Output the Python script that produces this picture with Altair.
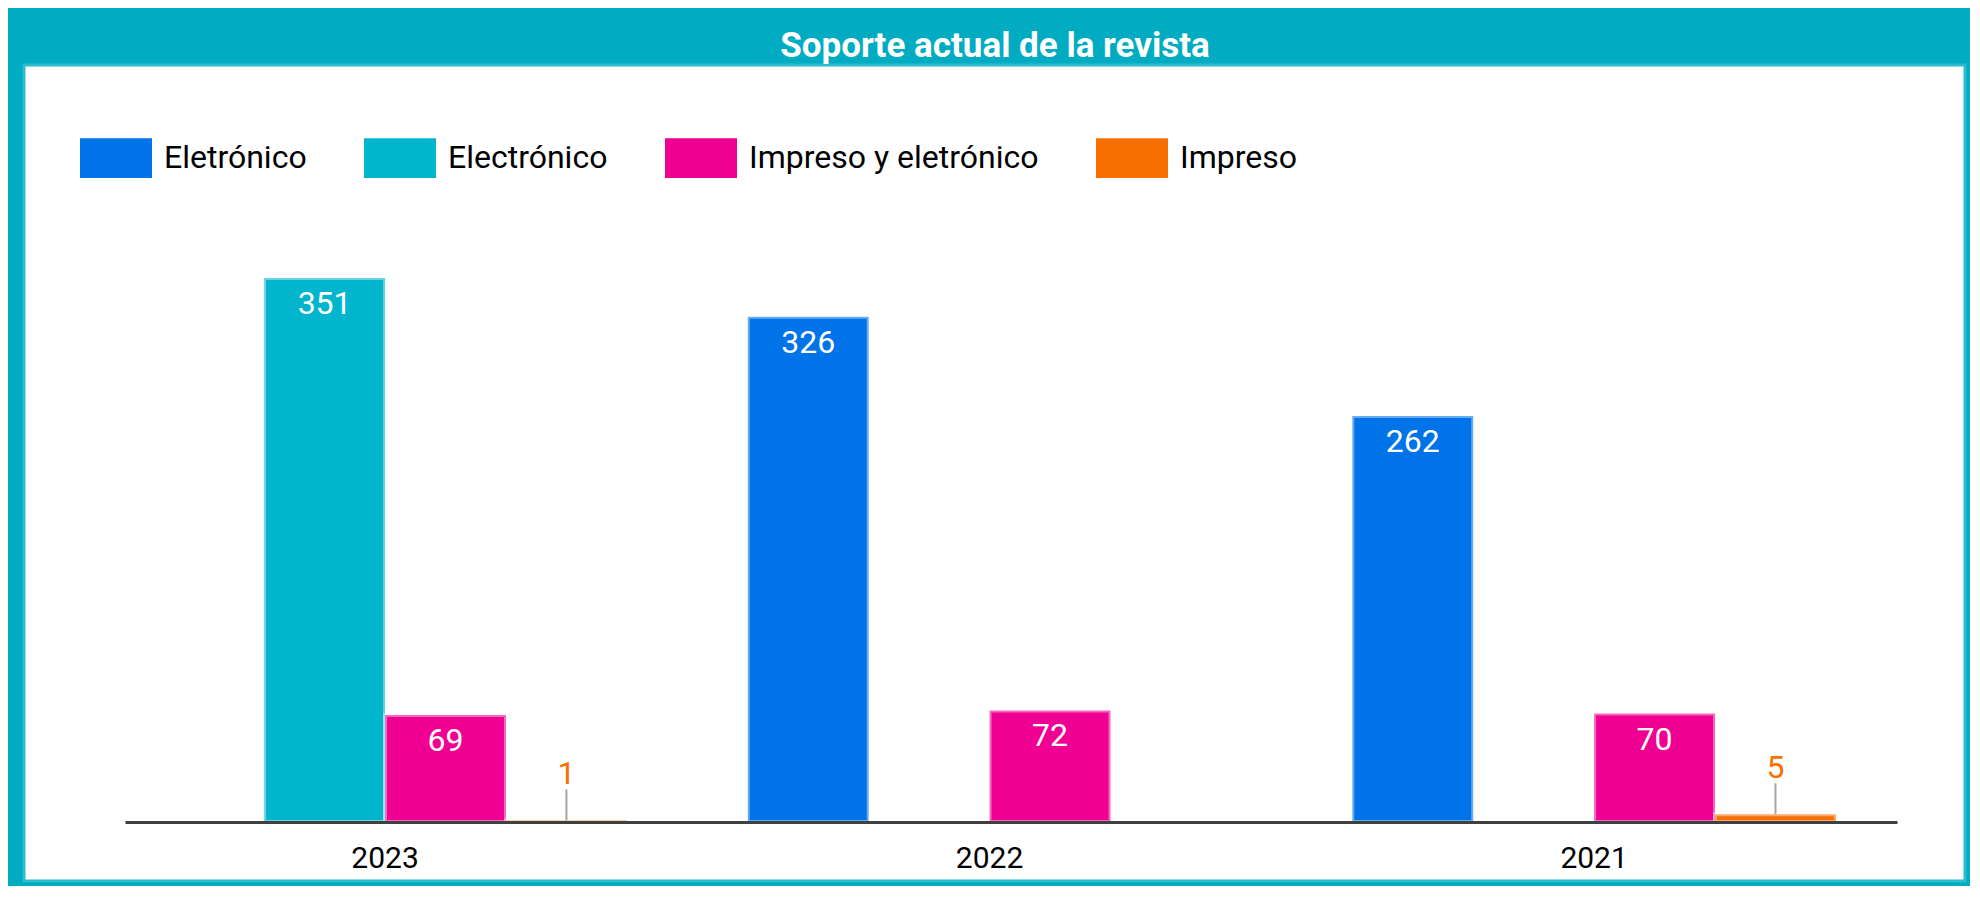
import altair as alt
import pandas as pd

# ---- data ----
years = ["2023", "2022", "2021"]
series = ["Eletrónico", "Electrónico", "Impreso y eletrónico", "Impreso"]
colors = ["#0073E8", "#00B5CC", "#EF0093", "#F87000"]

row_year = ["2023", "2023", "2023", "2022", "2022", "2021", "2021", "2021"]
row_series = ["Electrónico", "Impreso y eletrónico", "Impreso",
              "Eletrónico", "Impreso y eletrónico",
              "Eletrónico", "Impreso y eletrónico", "Impreso"]
row_value = [351, 69, 1, 326, 72, 262, 70, 5]

df = pd.DataFrame({"year": row_year, "serie": row_series, "value": row_value})

W, H = 1772, 620
FONT = "Roboto"
TEAL = "#01ACC2"

x = alt.X(
    "year:N", sort=years,
    scale=alt.Scale(paddingInner=0.2, paddingOuter=0.0656, align=0.23),
    axis=alt.Axis(title=None, labelAngle=0, ticks=False, grid=False,
                  domainColor="#404040", domainWidth=3,
                  labelFont=FONT, labelFontSize=30, labelColor="#000000",
                  labelPadding=21, zindex=1),
)
xo = alt.XOffset("serie:N", sort=series,
                 scale=alt.Scale(domain=series, paddingInner=0, paddingOuter=0))
y = alt.Y("value:Q", scale=alt.Scale(domain=[0, 400], nice=False, zero=True), axis=None)

color = alt.Color(
    "serie:N",
    scale=alt.Scale(domain=series, range=colors),
    legend=alt.Legend(
        title=None, orient="none", legendX=-45, legendY=-80,
        direction="horizontal", columns=4, columnPadding=57,
        labelFont=FONT, labelFontSize=32, labelColor="#000000", labelOffset=12,
        labelLimit=0,
        symbolType="M-1,-0.55H1V0.55H-1Z", symbolSize=5184,
        symbolStrokeWidth=0, symbolOpacity=1, padding=0, zindex=1,
    ),
)

# white inner panel (decoration)
panel = alt.Chart(pd.DataFrame({"k": [0]})).mark_rect(
    fill="white", stroke="#2BBCCD", strokeWidth=3
).encode(
    x=alt.value(-101), x2=alt.value(1840), y=alt.value(-137), y2=alt.value(679)
)

bars = alt.Chart(df).mark_bar(
    stroke="white", strokeOpacity=0.4, strokeWidth=4
).encode(x=x, xOffset=xo, y=y, color=color)

leader = alt.Chart(df).transform_filter("datum.value < 20").mark_rule(
    color="#A6A6A6", strokeWidth=2, yOffset=-31
).encode(x=x, xOffset=xo, y=y, y2=alt.Y2("value:Q"))

text_in = alt.Chart(df).transform_filter("datum.value >= 20").mark_text(
    baseline="alphabetic", dy=36, color="white", font=FONT, fontSize=32
).encode(x=x, xOffset=xo, y=y, text="value:Q")

text_out = alt.Chart(df).transform_filter("datum.value < 20").mark_text(
    baseline="alphabetic", dy=-36, color="#F87000", font=FONT, fontSize=32
).encode(x=x, xOffset=xo, y=y, text="value:Q")

chart = alt.layer(panel, bars, leader, text_in, text_out).properties(
    width=W, height=H,
    title=alt.TitleParams(
        "Soporte actual de la revista", font=FONT, fontSize=35,
        fontWeight="bold", color="white", anchor="middle", dx=-16, dy=3, offset=3,
    ),
    background=TEAL,
    padding={"left": 117, "top": 194, "right": 73, "bottom": 64},
    autosize=alt.AutoSizeParams(type="none"),
).configure_view(stroke=None)

chart.save("out.html", embed_options={"renderer": "svg", "actions": False})
